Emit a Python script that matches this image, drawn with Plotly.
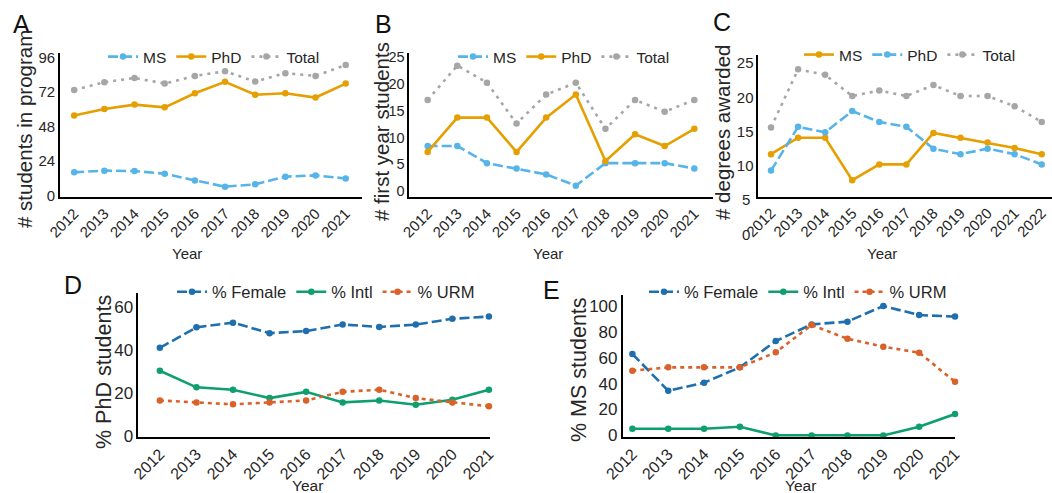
import plotly.graph_objects as go

# ---- data -------------------------------------------------------------
years = [2012, 2013, 2014, 2015, 2016, 2017, 2018, 2019, 2020, 2021]
years_awarded = [2012, 2013, 2014, 2015, 2016, 2017, 2018, 2019, 2020, 2021, 2022]

# A: students in program
enrolled_ms = [16.2, 17.4, 17.1, 15.3, 10.6, 6.3, 7.9, 13.2, 14.1, 12.0]
enrolled_phd = [55.6, 60.2, 63.2, 61.3, 71.1, 79.0, 70.0, 71.1, 68.1, 77.8]
enrolled_total = [73.4, 78.7, 81.7, 77.8, 83.1, 86.3, 79.2, 85.0, 83.1, 90.7]

# B: first year students
first_ms = [8.4, 8.4, 5.2, 4.2, 3.1, 1.0, 5.2, 5.2, 5.2, 4.2]
first_phd = [7.3, 13.7, 13.7, 7.3, 13.7, 18.0, 5.6, 10.6, 8.4, 11.6]
first_total = [17.0, 23.4, 20.2, 12.6, 18.0, 20.2, 11.6, 17.0, 14.8, 17.0]

# C: degrees awarded
deg_ms = [11.7, 14.1, 14.1, 7.9, 10.2, 10.2, 14.8, 14.1, 13.4, 12.6, 11.7]
deg_phd = [9.3, 15.7, 14.9, 18.0, 16.4, 15.7, 12.5, 11.7, 12.5, 11.7, 10.2]
deg_total = [15.6, 24.1, 23.3, 20.2, 21.0, 20.2, 21.8, 20.2, 20.2, 18.7, 16.4]

# D: PhD student demographics (%)
phd_female = [41.0, 50.5, 52.7, 47.8, 48.8, 51.8, 50.7, 51.8, 54.5, 55.5]
phd_intl = [30.4, 22.7, 21.6, 17.7, 20.6, 15.7, 16.6, 14.6, 16.9, 21.6]
phd_urm = [16.6, 15.7, 14.8, 15.7, 16.6, 20.6, 21.6, 17.7, 15.7, 13.9]

# E: MS student demographics (%)
ms_female = [62.9, 34.5, 40.7, 52.6, 72.9, 85.8, 87.9, 100.0, 93.0, 91.8]
ms_intl = [5.2, 5.2, 5.2, 6.7, 0.0, 0.0, 0.0, 0.0, 6.7, 16.5]
ms_urm = [50.0, 52.6, 52.6, 52.6, 64.2, 85.3, 74.7, 68.6, 63.9, 41.5]

ticks_a = [0, 24, 48, 72, 96]
ticks_b = [0, 5, 10, 15, 20, 25]
ticks_c = [10, 15, 20, 25]
ticks_c_low = [5, 0]
ticks_d = [0, 20, 40, 60]
ticks_e = [0, 20, 40, 60, 80, 100]

# ---- styling ----------------------------------------------------------
FONT = "Liberation Sans, Arial, sans-serif"
TXT = "#262626"
W, H = 1052, 493
SKY = "#56B4E9"
ORANGE = "#E69F00"
GREY = "#A6A6A6"
BLUE = "#1F6FAE"
GREEN = "#0E9F6E"
VERMIL = "#D9622B"

DASH_LONG = "10px,4px"
DOTS = "3px,5px"
DOTS_URM = "4px,4px"


def px_x(a, b):
    return [a / W, b / W]


def px_y(top, bottom):
    return [1 - bottom / H, 1 - top / H]


fig = go.Figure()


def add_line(x, y, name, color, dash, ax, legend):
    fig.add_trace(go.Scatter(
        x=x, y=y, name=name, mode="lines+markers",
        line=dict(color=color, width=2.6, dash=dash),
        marker=dict(color=color, size=6.5),
        xaxis="x" + ax, yaxis="y" + ax, legend=legend,
        cliponaxis=False,
    ))


add_line(years, enrolled_ms, "MS", SKY, DASH_LONG, "", "legend")
add_line(years, enrolled_phd, "PhD", ORANGE, "solid", "", "legend")
add_line(years, enrolled_total, "Total", GREY, DOTS, "", "legend")

add_line(years, first_ms, "MS", SKY, DASH_LONG, "2", "legend2")
add_line(years, first_phd, "PhD", ORANGE, "solid", "2", "legend2")
add_line(years, first_total, "Total", GREY, DOTS, "2", "legend2")

add_line(years_awarded, deg_ms, "MS", ORANGE, "solid", "3", "legend3")
add_line(years_awarded, deg_phd, "PhD", SKY, DASH_LONG, "3", "legend3")
add_line(years_awarded, deg_total, "Total", GREY, DOTS, "3", "legend3")

add_line(years, phd_female, "% Female", BLUE, DASH_LONG, "4", "legend4")
add_line(years, phd_intl, "% Intl", GREEN, "solid", "4", "legend4")
add_line(years, phd_urm, "% URM", VERMIL, DOTS_URM, "4", "legend4")

add_line(years, ms_female, "% Female", BLUE, DASH_LONG, "5", "legend5")
add_line(years, ms_intl, "% Intl", GREEN, "solid", "5", "legend5")
add_line(years, ms_urm, "% URM", VERMIL, DOTS_URM, "5", "legend5")


def xaxis(dom, rng, tickvals, size, anchor):
    return dict(
        domain=dom, range=rng, tickmode="array", tickvals=tickvals,
        ticktext=[str(v) for v in tickvals], tickangle=-45,
        showline=True, linecolor="black", linewidth=1.6, ticks="",
        showgrid=False, zeroline=False, anchor=anchor,
        tickfont=dict(size=size, color=TXT, family=FONT),
        automargin=False,
    )


def yaxis(dom, rng, tickvals, size, anchor):
    return dict(
        domain=dom, range=rng, tickmode="array", tickvals=tickvals,
        showline=True, linecolor="black", linewidth=1.6, ticks="",
        showgrid=False, zeroline=False, anchor=anchor,
        tickfont=dict(size=size, color=TXT, family=FONT),
        automargin=False,
    )


top_row = px_y(53.3, 197.3)
bottom_row = px_y(293.3, 436.7)
range_c = [5.48, 26.2]

layout = dict(
    width=W, height=H,
    margin=dict(l=0, r=0, t=0, b=0),
    paper_bgcolor="white", plot_bgcolor="white",
    font=dict(family=FONT, color=TXT),
    xaxis=xaxis(px_x(60, 362), [2011.53, 2021.54], years, 15, "y"),
    yaxis=yaxis(top_row, [-1.1, 98.8], ticks_a, 15, "x"),
    xaxis2=xaxis(px_x(409.3, 712.7), [2011.38, 2021.62], years, 15, "y2"),
    yaxis2=yaxis(top_row, [-1.17, 25.7], ticks_b, 14.5, "x2"),
    xaxis3=xaxis(px_x(758.3, 1052), [2011.53, 2022.38], years_awarded, 15, "y3"),
    yaxis3=yaxis(px_y(55, 196.7), range_c, ticks_c, 15, "x3"),
    xaxis4=xaxis(px_x(138.3, 490), [2011.41, 2021.03], years, 16, "y4"),
    yaxis4=yaxis(bottom_row, [-0.2, 66.3], ticks_d, 17, "x4"),
    xaxis5=xaxis(px_x(622.7, 955), [2011.73, 2021.0], years, 16, "y5"),
    yaxis5=yaxis(px_y(295, 436.7), [-1.0, 108.5], ticks_e, 17, "x5"),
)


def legend(xc, y, size):
    return dict(
        x=xc / W, y=1 - y / H, xanchor="center", yanchor="middle",
        orientation="h", bgcolor="rgba(0,0,0,0)", borderwidth=0,
        font=dict(size=size, family=FONT, color=TXT),
        itemwidth=30, traceorder="normal", tracegroupgap=0,
    )


layout["legend"] = legend(214, 57, 15.5)
layout["legend2"] = legend(564, 57, 15.5)
layout["legend3"] = legend(910, 55, 15.5)
layout["legend4"] = legend(326, 292, 16.5)
layout["legend5"] = legend(798, 292, 16.5)


def text(t, x, y, size, angle=0, color=TXT):
    return dict(text=t, x=x / W, y=1 - y / H, xref="paper", yref="paper",
                xanchor="center", yanchor="middle", showarrow=False,
                textangle=angle, font=dict(size=size, family=FONT, color=color))


annotations = []
# panel letters
for t, x, y in [("A", 21, 24), ("B", 383, 24), ("C", 722, 22), ("D", 73, 285), ("E", 551, 290)]:
    annotations.append(text(t, x, y, 25, color="#111111"))
# y-axis titles
for t, x, y, s in [("# students in program", 24, 129, 20.5),
                   ("# first year students", 381, 132, 20.5),
                   ("# degrees awarded", 722, 132, 20.5),
                   ("% PhD students", 104, 372, 21.5),
                   ("% MS students", 579, 370, 21.5)]:
    annotations.append(text(t, x, y, s, angle=-90))
# x-axis titles
for x, y, s in [(187, 254, 15), (548, 254, 15), (882, 254, 15), (307, 485, 15.5), (800, 485, 15.5)]:
    annotations.append(text("Year", x, y, s))
# lower labels of the degrees-awarded axis sit beneath the axis line
for v in ticks_c_low:
    annotations.append(dict(
        text=str(v), x=752 / W, y=(v - range_c[0]) / (range_c[1] - range_c[0]),
        xref="paper", yref="y3 domain", xanchor="right", yanchor="middle",
        showarrow=False, font=dict(size=15, family=FONT, color=TXT)))
layout["annotations"] = annotations

fig.update_layout(**layout)
fig.write_html("out.html")
